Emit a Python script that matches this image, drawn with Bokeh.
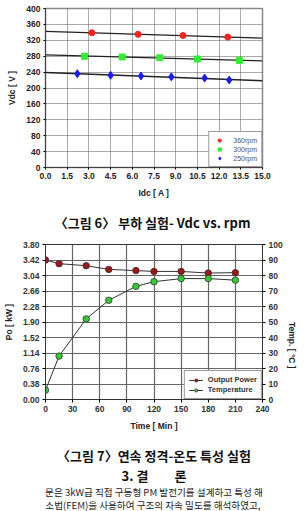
import math
import numpy as np
from bokeh.plotting import figure
from bokeh.models import Range1d, LinearAxis, FixedTicker, Legend, LegendItem, NumeralTickFormatter
from bokeh.layouts import column
from bokeh.core.properties import value
from bokeh.embed import file_html
from bokeh.resources import INLINE

# ---------------- data: figure 6 ----------------
idc_ticks = [0.0, 1.5, 3.0, 4.5, 6.0, 7.5, 9.0, 10.5, 12.0, 13.5, 15.0]
vdc_ticks = [0, 40, 80, 120, 160, 200, 240, 280, 320, 360, 400]
idc_360 = [3.2, 6.4, 9.5, 12.6]
vdc_360 = [339, 335, 332, 328]
idc_300 = [2.7, 5.3, 7.9, 10.5, 13.4]
vdc_300 = [280, 278, 276, 273, 269]
idc_250 = [2.2, 4.5, 6.6, 8.7, 11.0, 12.7]
vdc_250 = [236, 232, 230, 228, 225, 220]
labels_rpm = ["360rpm", "300rpm", "250rpm"]

# ---------------- data: figure 7 ----------------
time_ticks = [0, 30, 60, 90, 120, 150, 180, 210, 240]
po_ticks = [0.00, 0.38, 0.76, 1.14, 1.52, 1.90, 2.28, 2.66, 3.04, 3.42, 3.80]
temp_ticks = [0, 10, 20, 30, 40, 50, 60, 70, 80, 90, 100]
time_min = [0, 15, 45, 70, 100, 120, 150, 180, 210]
power_kw = [3.42, 3.33, 3.28, 3.19, 3.16, 3.14, 3.14, 3.10, 3.11]
temp_c = [6, 28, 52, 64, 73, 76, 78, 78, 77]

FONT = "Liberation Sans"
KFONT = "Noto Sans CJK KR"
W = 304

# ================= figure 6 =================
p1 = figure(width=W, height=200, x_range=Range1d(0, 15), y_range=Range1d(0, 400),
            output_backend="svg", toolbar_location=None,
            min_border_left=41, min_border_right=19, min_border_top=8, min_border_bottom=32)
p1.outline_line_color = "#8a8a8a"
p1.outline_line_width = 1.5
p1.xaxis.ticker = FixedTicker(ticks=idc_ticks)
p1.yaxis.ticker = FixedTicker(ticks=vdc_ticks)
p1.xaxis.formatter = NumeralTickFormatter(format="0.0")
p1.xaxis.axis_label = "Idc [ A ]"
p1.yaxis.axis_label = "Vdc [ V ]"
for ax in (p1.xaxis, p1.yaxis):
    ax.axis_line_color = "#444444"
    ax.major_tick_out = 2
    ax.major_tick_in = 0
    ax.minor_tick_out = 0
    ax.minor_tick_in = 0
    ax.major_label_text_font = FONT
    ax.major_label_text_font_style = "bold"
    ax.major_label_text_font_size = "8.5px"
    ax.major_label_text_color = "#222222"
    ax.major_label_standoff = 3
    ax.axis_label_text_font = FONT
    ax.axis_label_text_font_style = "bold"
    ax.axis_label_text_font_size = "8.5px"
    ax.axis_label_text_color = "#222222"
    ax.axis_label_standoff = 6
for g in (p1.xgrid, p1.ygrid):
    g.grid_line_color = "#555555"
    g.grid_line_dash = "1 1"
    g.grid_line_width = 1

xs_end = np.array([0.0, 15.0])
for xs, ys in ((idc_360, vdc_360), (idc_300, vdc_300), (idc_250, vdc_250)):
    k, b = np.polyfit(xs, ys, 1)
    p1.line(xs_end, k * xs_end + b, line_color="#222222", line_width=1.3)

r360 = p1.scatter(idc_360, vdc_360, marker="circle", size=6, fill_color="#ff1f1f", line_color="#ff1f1f")
r300 = p1.scatter(idc_300, vdc_300, marker="square", size=6, fill_color="#30ee30", line_color="#30ee30")
r250 = p1.scatter(idc_250, vdc_250, marker="diamond", size=8, fill_color="#1a1aff", line_color="#1a1aff")
leg1 = Legend(items=[LegendItem(label=labels_rpm[0], renderers=[r360]),
                     LegendItem(label=labels_rpm[1], renderers=[r300]),
                     LegendItem(label=labels_rpm[2], renderers=[r250])],
              location="bottom_right", margin=0, padding=4, spacing=1,
              glyph_height=8, glyph_width=12, label_standoff=8,
              label_text_font=FONT, label_text_font_size="7px", label_text_color="#555555",
              label_height=8, border_line_color="#333333", border_line_width=1.2,
              background_fill_color="white")
p1.add_layout(leg1)

# ================= caption 6 =================
c1 = figure(width=W, height=36, x_range=Range1d(0, W), y_range=Range1d(36, 0),
            output_backend="svg", toolbar_location=None, min_border=0)
c1.axis.visible = False
c1.grid.visible = False
c1.outline_line_color = None
c1.text(x=[150], y=[22], text=["〈그림 6〉 부하 실험- Vdc vs. rpm"], text_font=value(KFONT),
        text_font_style="bold", text_font_size="13px", text_align="center",
        text_baseline="middle", text_color="#111111")

# ================= figure 7 =================
p2 = figure(width=W, height=197, x_range=Range1d(0, 240), y_range=Range1d(0, 3.8),
            output_backend="svg", toolbar_location=None,
            min_border_left=40, min_border_right=40, min_border_top=8, min_border_bottom=30)
p2.extra_y_ranges = {"temp": Range1d(0, 100)}
rax = LinearAxis(y_range_name="temp", axis_label="Temp. [ °C ]")
rax.axis_label_orientation = -math.pi / 2
p2.add_layout(rax, "right")
p2.outline_line_color = "#333333"
p2.outline_line_width = 1
p2.xaxis.ticker = FixedTicker(ticks=time_ticks)
p2.yaxis[0].ticker = FixedTicker(ticks=po_ticks)
p2.yaxis[0].formatter = NumeralTickFormatter(format="0.00")
p2.yaxis[1].ticker = FixedTicker(ticks=temp_ticks)
p2.xaxis.axis_label = "Time [ Min ]"
p2.yaxis[0].axis_label = "Po [ kW ]"
for ax in list(p2.xaxis) + list(p2.yaxis):
    ax.axis_line_color = "#333333"
    ax.major_tick_out = 3
    ax.major_tick_in = 0
    ax.minor_tick_out = 0
    ax.minor_tick_in = 0
    ax.major_label_text_font = FONT
    ax.major_label_text_font_style = "bold"
    ax.major_label_text_font_size = "8.5px"
    ax.major_label_text_color = "#333333"
    ax.major_label_standoff = 3
    ax.axis_label_text_font = FONT
    ax.axis_label_text_font_style = "bold"
    ax.axis_label_text_font_size = "8.5px"
    ax.axis_label_text_color = "#222222"
    ax.axis_label_standoff = 6
for g in (p2.xgrid, p2.ygrid):
    g.grid_line_color = "#666666"
    g.grid_line_width = 1.2

lp = p2.line(time_min, power_kw, line_color="#333333", line_width=1)
sp = p2.scatter(time_min, power_kw, marker="circle", size=6.5, fill_color="#a01515", line_color="#333333", line_width=0.8)
lt = p2.line(time_min, temp_c, y_range_name="temp", line_color="#333333", line_width=1)
st = p2.scatter(time_min, temp_c, y_range_name="temp", marker="circle", size=6.5, fill_color="#33cc33", line_color="#333333", line_width=0.8)
leg2 = Legend(items=[LegendItem(label="Output Power", renderers=[lp, sp]),
                     LegendItem(label="Temperature", renderers=[lt, st])],
              location="bottom_right", margin=0, padding=4, spacing=1,
              glyph_height=8, glyph_width=14, label_standoff=5,
              label_text_font=FONT, label_text_font_size="7.5px", label_text_font_style="bold",
              label_text_color="#333333", label_height=8,
              border_line_color="#333333", border_line_width=1, background_fill_color="white")
p2.add_layout(leg2)

# ================= caption 7 and text =================
c2 = figure(width=W, height=78, x_range=Range1d(0, W), y_range=Range1d(78, 0),
            output_backend="svg", toolbar_location=None, min_border=0)
c2.axis.visible = False
c2.grid.visible = False
c2.outline_line_color = None
c2.text(x=[152], y=[22], text=["〈그림 7〉연속 정격-온도 특성 실험"], text_font=value(KFONT),
        text_font_style="bold", text_font_size="13px", text_align="center",
        text_baseline="middle", text_color="#111111")
c2.text(x=[152], y=[42], text=["3. 결\u2003\u2003론"], text_font=value(KFONT),
        text_font_style="bold", text_font_size="13px", text_align="center",
        text_baseline="middle", text_color="#111111")
c2.text(x=[152], y=[58], text=["논문은 3kW급 직접 구동형 PM 발전기를 설계하고 특성 해석"], text_font=value(KFONT),
        text_font_size="9.6px", text_align="center", text_baseline="middle", text_color="#222222")
c2.text(x=[152], y=[71], text=["요소법(FEM)을 사용하여 구조의 자속 밀도를 해석하였고, 특"], text_font=value(KFONT),
        text_font_size="9.6px", text_align="center", text_baseline="middle", text_color="#222222")

layout = column(p1, c1, p2, c2, spacing=0)
open("out.html", "w").write(file_html(layout, INLINE))
